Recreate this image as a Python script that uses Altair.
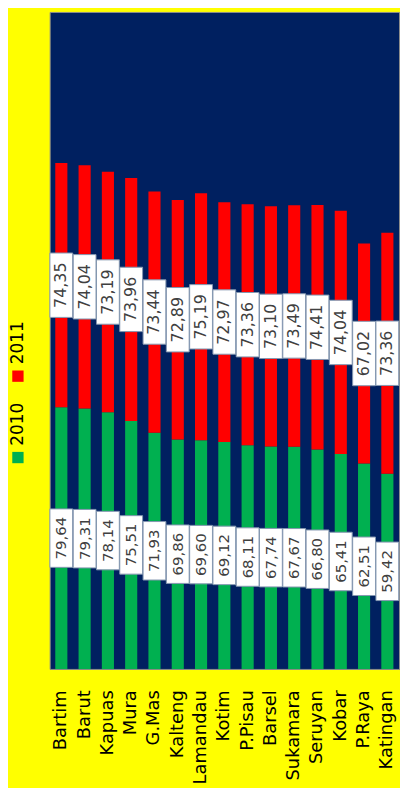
import altair as alt
import pandas as pd

regions = ["Bartim", "Barut", "Kapuas", "Mura", "G.Mas", "Kalteng", "Lamandau",
           "Kotim", "P.Pisau", "Barsel", "Sukamara", "Seruyan", "Kobar", "P.Raya", "Katingan"]
v2010 = [79.64, 79.31, 78.14, 75.51, 71.93, 69.86, 69.60, 69.12, 68.11, 67.74, 67.67, 66.80, 65.41, 62.51, 59.42]
v2011 = [74.35, 74.04, 73.19, 73.96, 73.44, 72.89, 75.19, 72.97, 73.36, 73.10, 73.49, 74.41, 74.04, 67.02, 73.36]
series = ["2010", "2011"]
colors = ["#00B050", "#FF0000"]

rows = []
for i, r in enumerate(regions):
    rows.append({"region": r, "series": "2010", "k": 0, "value": v2010[i]})
    rows.append({"region": r, "series": "2011", "k": 1, "value": v2011[i]})
df = pd.DataFrame(rows)

W, H = 352, 662
FONT = "DejaVu Sans"

xenc = alt.X("region:N", sort=regions,
             scale=alt.Scale(paddingInner=0.48, paddingOuter=0.24),
             axis=alt.Axis(title=None, labelAngle=-90, labelFontSize=18, labelFont=FONT,
                           labelColor="#000000", ticks=False, domain=False, labelPadding=21,
                           labelLimit=300))
yscale = alt.Scale(domain=[0, 200], nice=False, zero=True)

base = (alt.Chart(df)
        .transform_stack(stack="value", groupby=["region"], as_=["v0", "v1"],
                         sort=[alt.SortField("k", order="ascending")])
        .transform_calculate(mid="(datum.v0 + datum.v1) / 2",
                             half="datum.k == 0 ? 8.9 : 9.8")
        .transform_calculate(lo="datum.mid - datum.half", hi="datum.mid + datum.half",
                             lab="replace(format(datum.value, '.2f'), '.', ',')"))

bars = base.mark_bar().encode(
    x=xenc,
    y=alt.Y("v0:Q", scale=yscale, axis=None),
    y2="v1:Q",
    color=alt.Color("series:N", scale=alt.Scale(domain=series, range=colors), legend=None),
)
boxes = base.mark_bar(size=23, fill="white", stroke="#8497B0", strokeWidth=1).encode(
    x=xenc,
    y=alt.Y("lo:Q", scale=yscale, axis=None),
    y2="hi:Q",
)
texts = base.mark_text(angle=270, font=FONT, color="#404040", baseline="middle", align="center").encode(
    x=xenc,
    y=alt.Y("mid:Q", scale=yscale, axis=None),
    text="lab:N",
    size=alt.Size("series:N", scale=alt.Scale(domain=series, range=[15, 16]), legend=None),
)
main = alt.layer(bars, boxes, texts).properties(
    width=W, height=H,
    view=alt.ViewBackground(fill="#002060", stroke="#8C8C8C", strokeWidth=1),
)

leg_df = pd.DataFrame({"series": series})
ly = alt.Scale(domain=["2011", "2010"], paddingInner=0, paddingOuter=0, range=[300, 464])
sq = alt.Chart(leg_df).mark_square(size=130, opacity=1, yOffset=26).encode(
    y=alt.Y("series:N", scale=ly, axis=None),
    color=alt.Color("series:N", scale=alt.Scale(domain=series, range=colors), legend=None),
)
lt = alt.Chart(leg_df).mark_text(angle=270, align="left", baseline="middle", fontSize=17,
                                 font=FONT, color="#000000", yOffset=14).encode(
    y=alt.Y("series:N", scale=ly, axis=None),
    text="series:N",
)
legend = alt.layer(sq, lt).properties(width=20, height=464)

chart = (alt.hconcat(legend, main, spacing=22, bounds="flush")
         .properties(padding={"left": 0, "top": 0, "right": 0, "bottom": 0},
                     autosize=alt.AutoSizeParams(type="pad"))
         .configure(background="#FFFF00")
         .configure_view(strokeWidth=0))

chart.save("out.html", embed_options={"renderer": "svg", "actions": False})
